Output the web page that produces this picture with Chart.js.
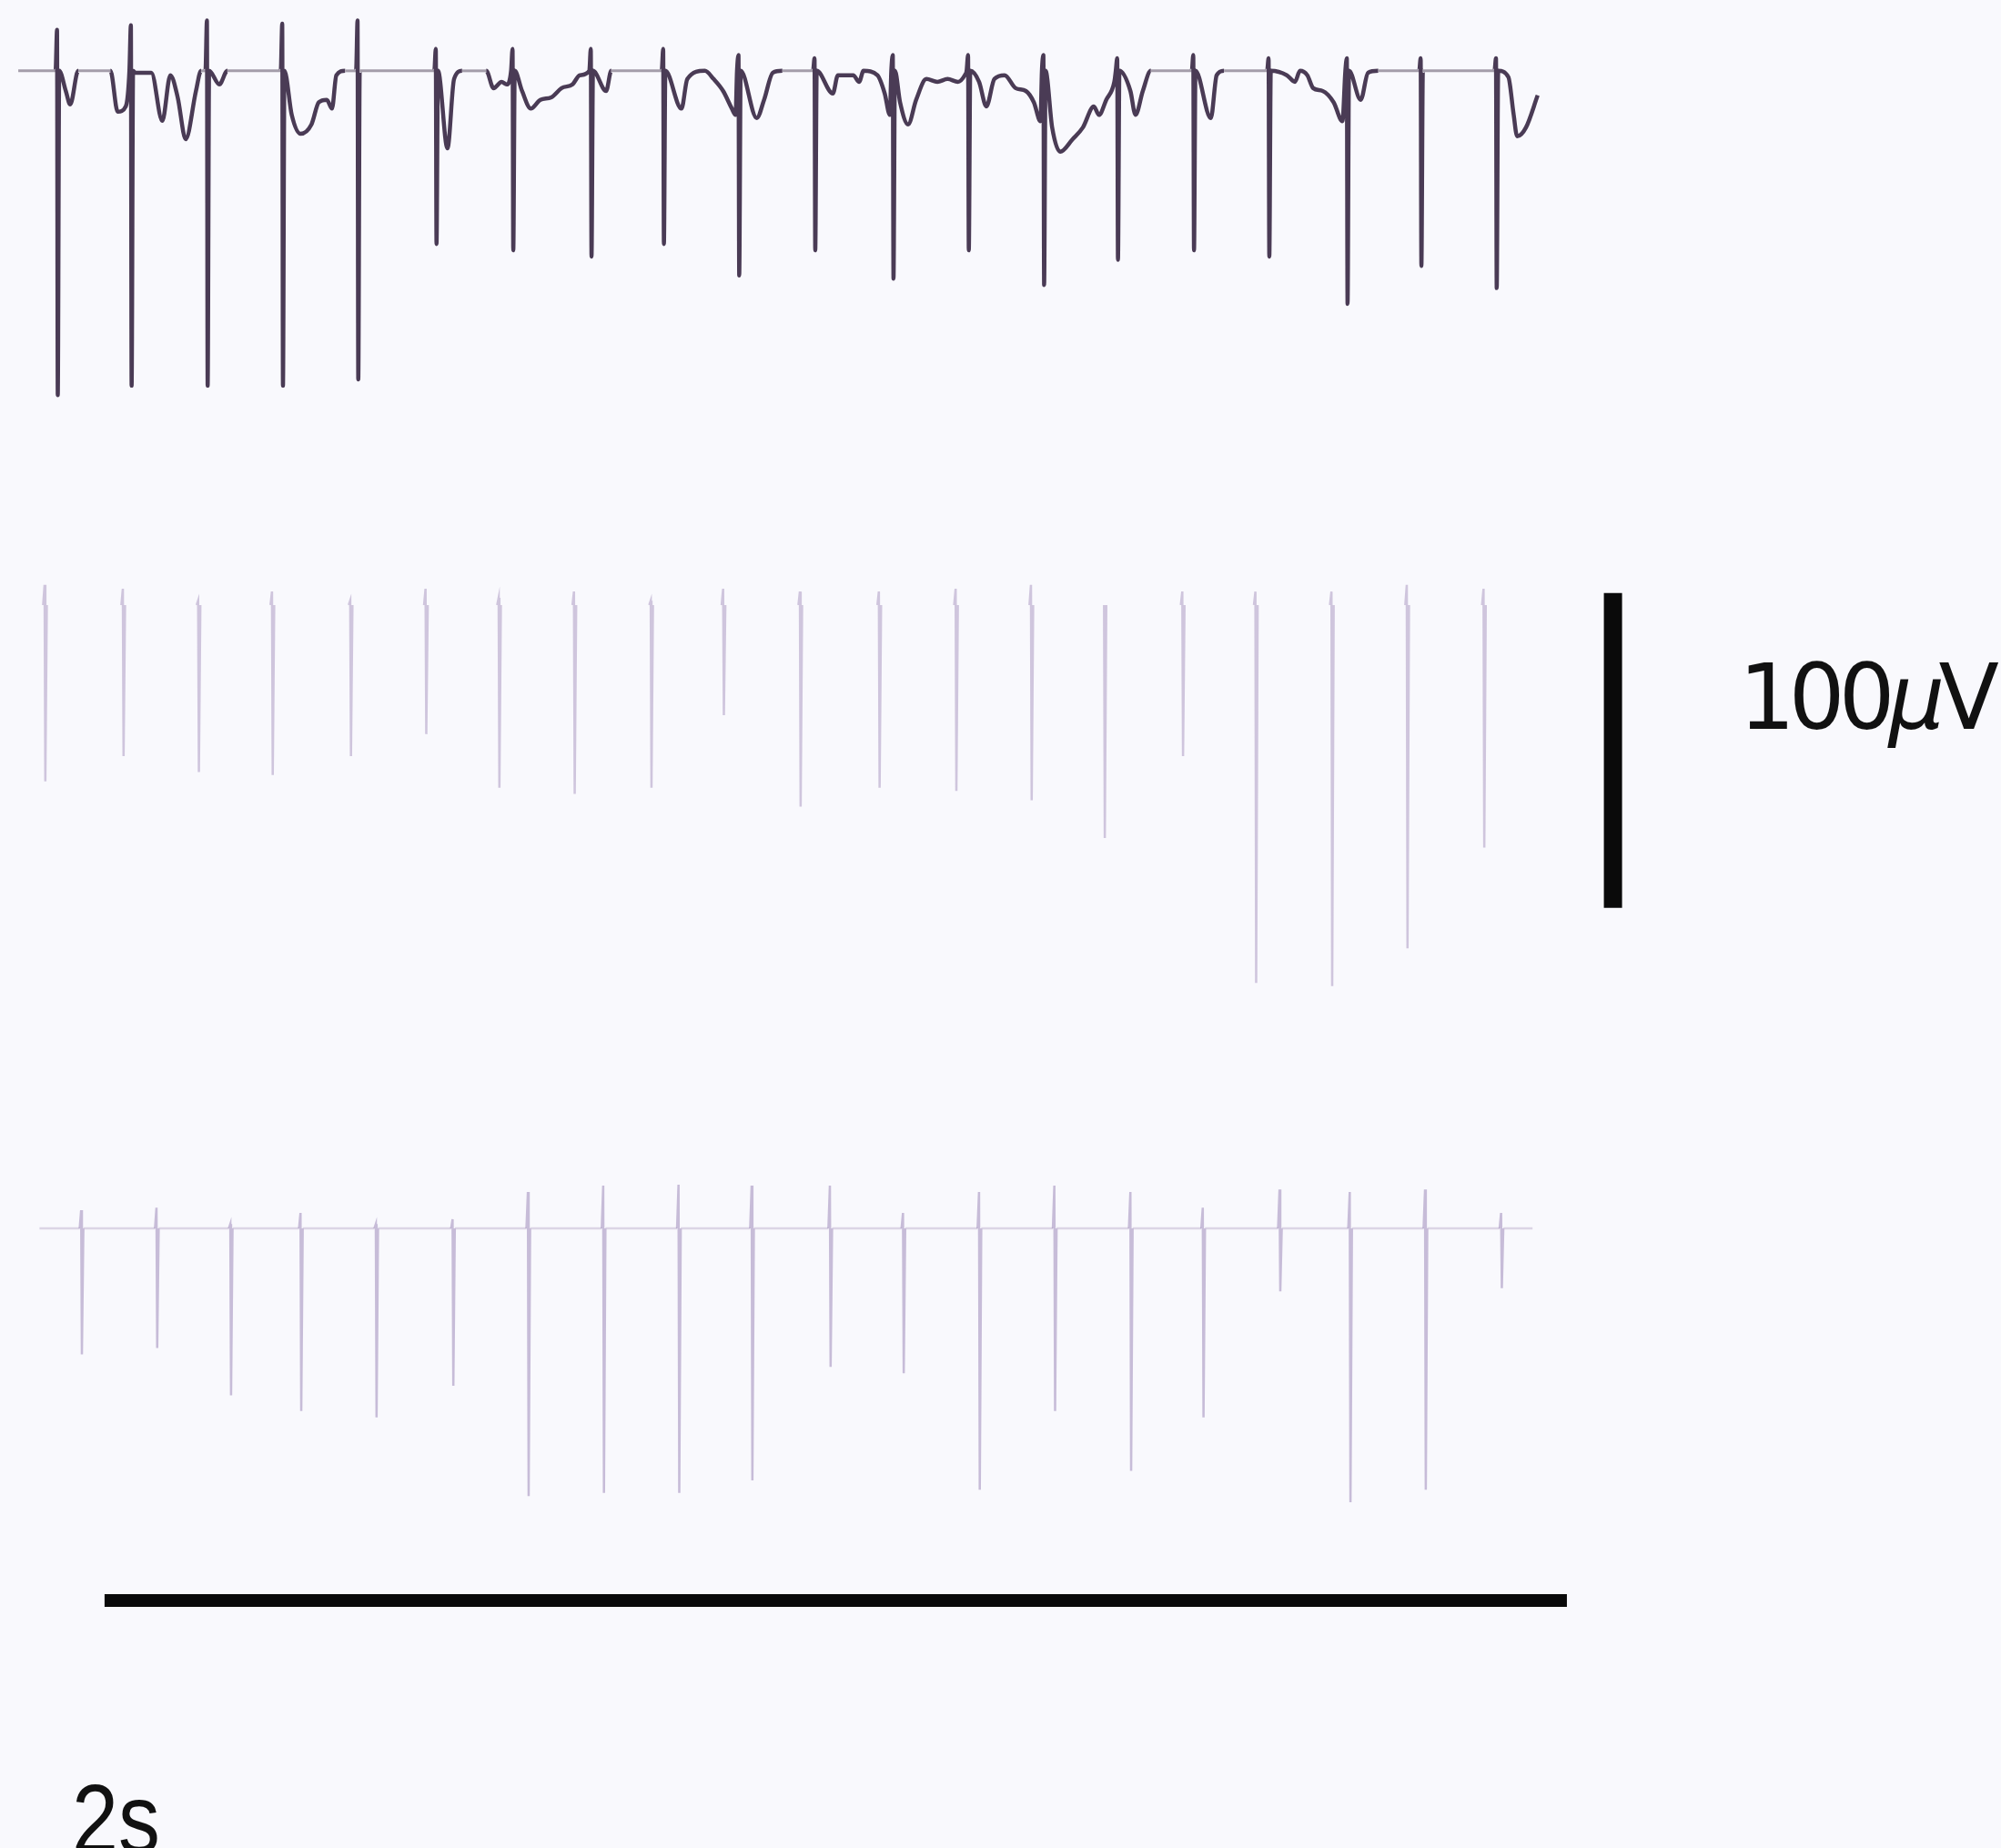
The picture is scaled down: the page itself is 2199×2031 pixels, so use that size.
<!DOCTYPE html>
<html>
<head>
<meta charset="utf-8">
<script src="https://cdn.jsdelivr.net/npm/chart.js@4.4.1/dist/chart.umd.min.js"></script>
<style>
  html, body { margin: 0; padding: 0; background: #f9f9fd; overflow: hidden; }
  #wrap { position: relative; width: 2199px; height: 2031px; overflow: hidden; }
  #c { position: absolute; left: 0; top: 0; }
  .lbl { position: absolute; color: #111; white-space: nowrap; line-height: 1; }
  #uv { left: 1911px; top: 709px; font: 99px "DejaVu Sans", sans-serif; letter-spacing: -7px;
        transform: scaleX(0.98); transform-origin: 0 0; }
  #sec { left: 79px; top: 1936px; font: 108px "Liberation Sans", Arial, sans-serif;
         transform: scaleX(0.85); transform-origin: 0 0; }
</style>
</head>
<body>
<div id="wrap">
  <canvas id="c" width="2199" height="2031"></canvas>
  <div class="lbl" id="uv">100<span style="font-style:italic">μ</span>V</div>
  <div class="lbl" id="sec">2s</div>
</div>
<script>
// ---------- Recording 1 (top): spike times in ms, tip and trough in µV ----------
const rec1SpikeTime   = [78, 179, 283, 386, 489, 596, 701, 808, 907, 1010, 1114, 1221, 1324, 1427, 1528, 1632, 1735, 1842, 1943, 2046];
const rec1SpikePeak   = [13, 14.5, 16, 15, 16, 7, 7, 7, 7, 5, 4, 5, 5, 5, 4, 5, 4, 4, 4, 4];
const rec1SpikeTrough = [-103, -100, -100, -100, -98, -55, -57, -59, -55, -65, -57, -66, -57, -68, -60, -57, -59, -74, -62, -69];
// slow deflections of the top recording between spikes
const rec1WaveTime  = [25, 90, 96, 107, 151, 161, 172, 185, 207, 222, 233, 243, 254, 268, 275, 300, 311, 377,
  399, 411, 426, 436, 447, 454, 460, 472, 585, 612, 621, 632, 665, 675, 686, 693, 714, 726, 739, 754, 768, 783,
  793, 829, 836, 932, 940, 964, 976, 989, 1001, 1006, 1035, 1045, 1057, 1070, 1139, 1146, 1167, 1175, 1181,
  1200, 1210, 1217, 1231, 1242, 1253, 1267, 1282, 1296, 1310, 1320, 1339, 1349, 1360, 1374, 1389, 1403, 1414,
  1423, 1439, 1450, 1467, 1481, 1496, 1503, 1513, 1524, 1546, 1553, 1563, 1574, 1656, 1664, 1674, 1760, 1771,
  1778, 1788, 1796, 1809, 1824, 1836, 1861, 1871, 1885, 2063, 2070, 2075, 2087, 2103];
const rec1WaveValue = [0, -6.4, -10.7, 0, 0, -13, -11.3, -0.6, -0.6, -15.9, -1.4, -8.4, -21.7, -6.4, 0, -4.3, 0, 0,
  -14, -20, -17, -10, -9.2, -12, -1.4, 0, 0, -24.6, -2.6, 0, 0, -5.5, -3.5, -4.3, -6.4, -12, -9.2, -8.4, -5.5, -4.3,
  -1.4, -6.4, 0, -12, -2.6, 0, -2.6, -6.4, -12, -14, -15, -9.2, -0.6, 0, -7.2, -1.4, -1.4, -3.5, 0,
  -1.4, -7.2, -14, -10, -17, -9.2, -2.6, -3.5, -2.6, -3.5, -1.2, -3.5, -11.3, -2.6, -1.4, -5.5, -6.4, -10,
  -16, -18, -25.7, -21.7, -18, -11.3, -14, -9.2, -3.5, -6.4, -14, -6.4, 0, -15, -1.4, 0, -1.4, -3.5,
  0, -1.4, -5.5, -6.4, -10, -16, -9.2, -0.6, 0, -2, -13.6, -20.8, -18, -7.8];

// ---------- Recording 2 (middle) ----------
const rec2SpikeTime   = [61, 168, 271, 372, 479, 582, 682, 785, 890, 989, 1094, 1202, 1307, 1410, 1510, 1617, 1717, 1821, 1924, 2029];
const rec2SpikePeak   = [6.4, 5.2, 1.4, 4.3, 1.4, 5.2, 2.3, 4.3, 1.4, 5.2, 4.3, 4.3, 5.2, 6.4, 0, 4.3, 4.3, 4.3, 6.4, 5.2];
const rec2SpikeTrough = [-56, -48, -53, -54, -48, -41, -58, -60, -58, -35, -64, -58, -59, -62, -74, -48, -120, -121, -109, -77];
const rec2Span = [25, 2100];

// ---------- Recording 3 (bottom) ----------
const rec3SpikeTime   = [111, 214, 315, 411, 514, 619, 722, 825, 928, 1028, 1135, 1235, 1339, 1442, 1546, 1645, 1750, 1846, 1949, 2053];
const rec3SpikePeak   = [5.8, 6.6, 1.4, 4.9, 1.4, 2.9, 11.6, 13.6, 13.9, 13.6, 13.6, 4.9, 11.6, 13.6, 11.6, 6.6, 12.4, 11.6, 12.4, 4.9];
const rec3SpikeTrough = [-40, -38, -53, -58, -60, -50, -85, -84, -84, -80, -44, -46, -83, -58, -77, -60, -20, -87, -83, -19];
const rec3Span = [54, 2096];

// vertical stacking of the three recordings (µV on the shared axis)
const recOffset = [564.5, 394.8, 196.8];

// calibration bars
const voltBarTime  = [2206, 2206];
const voltBarLevel = [298.6, 398.6];   // 100 µV
const timeBarTime  = [143, 2143];      // 2 s
const timeBarLevel = [78.6, 78.6];

// assemble a trace: baseline ends, spike shapes and optional slow wave, in time order
function buildTrace(offset, span, times, peaks, troughs, waveT, waveV) {
  const pts = [];
  if (span) { pts.push({x: span[0], y: 0}, {x: span[1], y: 0}); }
  if (waveT) waveT.forEach((t, i) => pts.push({x: t, y: waveV[i]}));
  times.forEach((t, i) => {
    pts.push({x: t - 2, y: 0}, {x: t, y: peaks[i]}, {x: t + 1, y: troughs[i]}, {x: t + 3, y: 0});
  });
  pts.sort((a, b) => a.x - b.x);
  return pts.map(p => ({x: p.x, y: p.y + offset}));
}

function flatSegment(offset) {
  return ctx => ctx.p0.parsed.y === offset && ctx.p1.parsed.y === offset;
}

const flat1 = flatSegment(recOffset[0]);
const flat2 = flatSegment(recOffset[1]);
const flat3 = flatSegment(recOffset[2]);

const datasets = [
  {
    data: buildTrace(recOffset[0], null, rec1SpikeTime, rec1SpikePeak, rec1SpikeTrough, rec1WaveTime, rec1WaveValue),
    borderColor: '#4a3b55', borderWidth: 4.5, borderJoinStyle: 'round',
    cubicInterpolationMode: 'monotone',
    segment: {
      borderColor: ctx => flat1(ctx) ? '#a49daa' : undefined,
      borderWidth: ctx => flat1(ctx) ? 3 : undefined
    }
  },
  {
    data: buildTrace(recOffset[1], rec2Span, rec2SpikeTime, rec2SpikePeak, rec2SpikeTrough),
    borderColor: 'rgba(165,145,190,0.5)', borderWidth: 2.5,
    segment: { borderColor: ctx => flat2(ctx) ? 'rgba(0,0,0,0)' : undefined }
  },
  {
    data: buildTrace(recOffset[2], rec3Span, rec3SpikeTime, rec3SpikePeak, rec3SpikeTrough),
    borderColor: 'rgba(150,128,180,0.5)', borderWidth: 2.5,
    segment: { borderColor: ctx => flat3(ctx) ? 'rgba(200,188,214,0.6)' : undefined }
  },
  {
    data: voltBarTime.map((t, i) => ({x: t, y: voltBarLevel[i]})),
    borderColor: '#0a0a0a', borderWidth: 20
  },
  {
    data: timeBarTime.map((t, i) => ({x: t, y: timeBarLevel[i]})),
    borderColor: '#0a0a0a', borderWidth: 14
  }
];

new Chart(document.getElementById('c'), {
  type: 'line',
  data: { datasets: datasets },
  options: {
    responsive: false,
    animation: false,
    events: [],
    layout: { padding: 0 },
    elements: { point: { radius: 0 }, line: { tension: 0, fill: false, borderCapStyle: 'butt' } },
    plugins: { legend: { display: false }, tooltip: { enabled: false }, title: { display: false } },
    scales: {
      x: { type: 'linear', min: 0, max: 2736.7, display: false },
      y: { type: 'linear', min: 0, max: 587.0, display: false }
    }
  }
});
</script>
</body>
</html>
